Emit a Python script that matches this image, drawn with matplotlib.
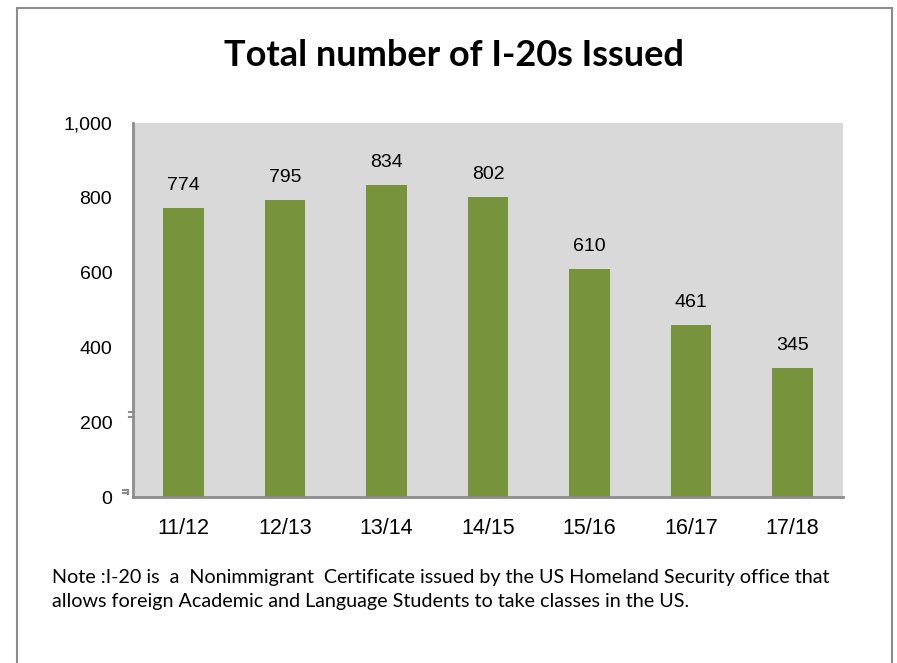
import matplotlib
matplotlib.use("Agg")
import matplotlib.pyplot as plt
from matplotlib.patches import Rectangle
from matplotlib.lines import Line2D

categories = ["11/12", "12/13", "13/14", "14/15", "15/16", "16/17", "17/18"]
values = [774, 795, 834, 802, 610, 461, 345]
yticks = [0, 200, 400, 600, 800, 1000]
ytick_labels = ["0", "200", "400", "600", "800", "1,000"]
title = "Total number of I-20s Issued"
note = ("Note :I-20 is  a  Nonimmigrant  Certificate issued by the US Homeland Security office that\n"
        "allows foreign Academic and Language Students to take classes in the US.")

W, H = 897, 663
fig = plt.figure(figsize=(W / 100, H / 100), dpi=100)
fig.patch.set_facecolor("white")

# outer frame
fig.patches.append(Rectangle((17 / W, -0.05), (892 - 17) / W, 1 - 8 / H + 0.05,
                             transform=fig.transFigure, fill=False,
                             edgecolor="#8c8c8c", linewidth=1.5))

ax = fig.add_axes([133 / W, 1 - 497 / H, (843 - 133) / W, (497 - 123) / H])
ax.set_facecolor("#d9d9d9")
x = range(len(categories))
ax.bar(x, values, width=0.4, color="#77933c", zorder=2)
ax.set_xlim(-0.5, len(categories) - 0.5)
ax.set_ylim(0, 1000)
ax.set_yticks(yticks)
ax.set_yticklabels(ytick_labels, fontsize=14, family="Liberation Sans")
ax.set_xticks(list(x))
ax.set_xticklabels(categories, fontsize=15.5, family="Liberation Sans")
ax.tick_params(axis="y", length=0, pad=15)
ax.tick_params(axis="x", length=0, pad=15)
for s in ["top", "right"]:
    ax.spines[s].set_visible(False)
for s in ["left", "bottom"]:
    ax.spines[s].set_color("#8c8c8c")
    ax.spines[s].set_linewidth(2)

for xi, v in zip(x, values):
    ax.annotate(str(v), (xi, v), xytext=(0, 10), textcoords="offset points",
                ha="center", va="bottom", fontsize=14, family="Liberation Sans")

# small stray marks left of the axis (as in reference)
def pline(x0, y0, x1, y1, lw=1.5):
    fig.add_artist(Line2D([x0 / W, x1 / W], [1 - y0 / H, 1 - y1 / H],
                          color="#8c8c8c", linewidth=lw))
pline(129, 412, 134, 412)
pline(129, 416.5, 134, 416.5)
pline(123, 489.5, 128, 489.5)
pline(123, 492.5, 128, 492.5)
pline(128, 491, 128, 494)

fig.text(454 / W, 1 - 56 / H, title, ha="center", va="center",
         fontsize=26, fontweight="bold", family="Lato")
fig.text(52 / W, 1 - 589 / H, note, ha="left", va="center",
         fontsize=14.2, family="Lato", linespacing=1.5)

fig.savefig("out.png", dpi=100)
